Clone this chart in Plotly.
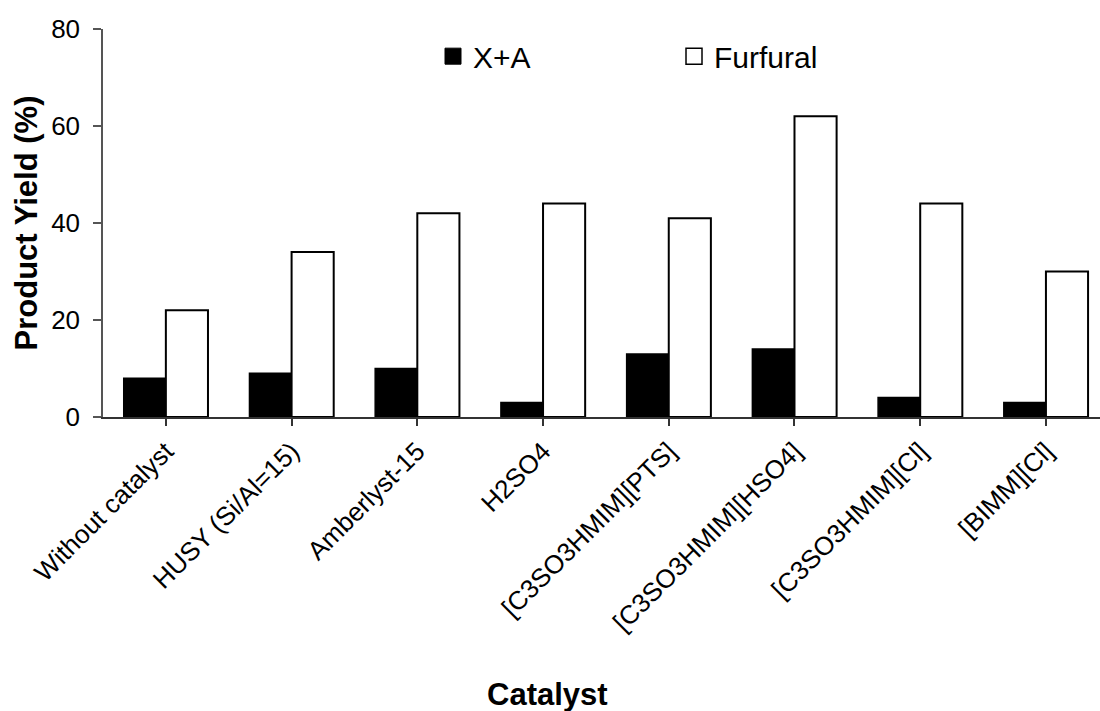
import plotly.graph_objects as go

# Catalyst screening: product yields per catalyst
catalysts = [
    "Without catalyst",
    "HUSY (Si/Al=15)",
    "Amberlyst-15",
    "H2SO4",
    "[C3SO3HMIM][PTS]",
    "[C3SO3HMIM][HSO4]",
    "[C3SO3HMIM][Cl]",
    "[BIMM][Cl]",
]
xa_yield = [8, 9, 10, 3, 13, 14, 4, 3]
furfural_yield = [22, 34, 42, 44, 41, 62, 44, 30]
y_ticks = [0, 20, 40, 60, 80]

FONT = "Arial, Liberation Sans, sans-serif"

fig = go.Figure()
fig.add_trace(go.Bar(
    name="X+A", x=catalysts, y=xa_yield, showlegend=False,
    marker=dict(color="black", line=dict(color="black", width=1.5)),
))
fig.add_trace(go.Bar(
    name="Furfural", x=catalysts, y=furfural_yield, showlegend=False,
    marker=dict(color="white", line=dict(color="black", width=2)),
))

# legend keys drawn as larger square swatches
fig.add_trace(go.Scatter(
    name="X+A", x=[None], y=[None], mode="markers",
    marker=dict(symbol="square", size=16, color="black",
                line=dict(color="black", width=1)),
))
fig.add_trace(go.Scatter(
    name="Furfural", x=[None], y=[None], mode="markers",
    marker=dict(symbol="square", size=16, color="white",
                line=dict(color="black", width=1.5)),
))

fig.update_layout(
    width=1100, height=711,
    margin=dict(l=103, r=0, t=29, b=294),
    paper_bgcolor="white", plot_bgcolor="white",
    barmode="group", bargap=0.33, bargroupgap=0,
    font=dict(family=FONT, size=26, color="black"),
    showlegend=True,
    legend=dict(
        orientation="h", x=0.331, y=0.93, xanchor="left", yanchor="middle",
        font=dict(size=30), entrywidth=196, entrywidthmode="pixels",
        bgcolor="rgba(0,0,0,0)", itemclick=False, itemdoubleclick=False,
    ),
    annotations=[dict(
        text="<b>Catalyst</b>", xref="paper", yref="paper",
        x=0.446, y=-0.716, xanchor="center", yanchor="middle",
        showarrow=False, font=dict(size=31),
    )],
)

fig.update_xaxes(
    type="category", range=[-0.5, 7.43],
    showline=True, linecolor="#333", linewidth=1.5,
    ticks="outside", ticklen=7, tickcolor="#333", tickwidth=1.5,
    tickangle=-45, tickfont=dict(size=26),
    showgrid=False, zeroline=False,
)
fig.update_yaxes(
    range=[0, 80], tickvals=y_ticks,
    showline=True, linecolor="#555", linewidth=1.5,
    ticks="outside", ticklen=8, tickcolor="#555", tickwidth=1.5,
    ticklabelstandoff=8, tickfont=dict(size=26),
    showgrid=False, zeroline=False,
    title=dict(text="<b>Product Yield (%)</b>", font=dict(size=31), standoff=4),
)

fig.write_html("out.html")
